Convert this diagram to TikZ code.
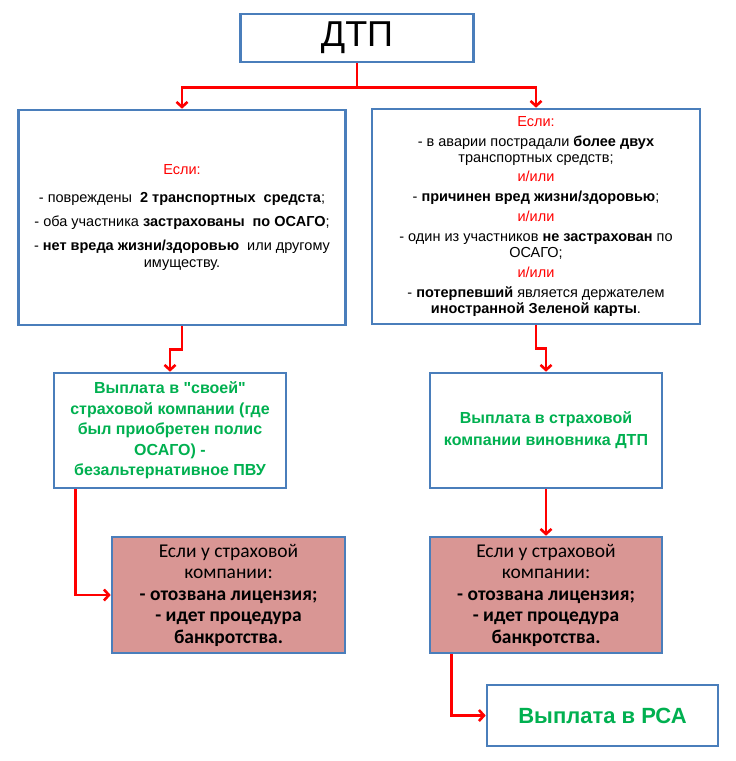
\documentclass[tikz,border=0pt]{standalone}
\definecolor{dtpblue}{HTML}{4A7EBB}
\definecolor{dtpred}{HTML}{FF0000}
\definecolor{dtppink}{HTML}{D99694}
\definecolor{dtpgreen}{HTML}{00B050}
\usepackage{fontspec}
\setmainfont{Liberation Sans}[Ligatures=TeXOff]
\newfontfamily\calibri{Carlito}
\usepackage{tikz}
\usetikzlibrary{arrows.meta, positioning, calc}

\begin{document}
\begin{tikzpicture}[x=1pt, y=-1pt,
    box/.style={draw=dtpblue, fill=white, line width=2.6pt, inner sep=0pt, align=center},
    pinkbox/.style={box, fill=dtppink, font=\calibri\fontsize{19.5}{21.5}\selectfont},
    paytext/.style={text=dtpgreen, font=\bfseries\fontsize{16}{20.5}\selectfont},
    link/.style={draw=dtpred, line width=2.6pt, -{Straight Barb[length=5pt,width=11pt]}}]
    \useasboundingbox (0,0) rectangle (736,761);
    % Top: the accident
    \node[box, minimum width=233, minimum height=48, font=\fontsize{36}{40}\selectfont]
      (dtp) at (357,38) {\raisebox{-2pt}{ДТП}};
    % Conditions: left and right
    \node[box, minimum width=327, minimum height=215, font=\fontsize{14.5}{17}\selectfont]
      (usl1) at (182,217.5) {{\color{dtpred}Если:}\\[11pt]
      - повреждены \ \textbf{2 транспортных \ средста};\\[7pt]
      - оба участника \textbf{застрахованы \ по ОСАГО};\\[7pt]
      - \textbf{нет вреда жизни/здоровью} \ или другому\\
      имуществу.};
    \node[box, minimum width=328, minimum height=215, font=\fontsize{14.5}{16}\selectfont]
      (usl2) at (536,216.5) {{\color{dtpred}Если:}\\[4pt]
      - в аварии пострадали \textbf{более двух}\\
      транспортных средств;\\[3pt]
      {\color{dtpred}и/или}\\[4pt]
      - \textbf{причинен вред жизни/здоровью};\\[4pt]
      {\color{dtpred}и/или}\\[4pt]
      - один из участников \textbf{не застрахован} по\\
      ОСАГО;\\[4pt]
      {\color{dtpred}и/или}\\[4pt]
      - \textbf{потерпевший} является держателем\\
      \textbf{иностранной Зеленой карты}.};
    % Where to claim
    \node[box, paytext, minimum width=232, minimum height=115]
      (pay1) at (170,430.5) {Выплата в "своей"\\страховой компании (где\\был приобретен полис\\ОСАГО) -\\безальтернативное ПВУ};
    \node[box, paytext, minimum width=232, minimum height=115, font=\bfseries\fontsize{16}{22}\selectfont]
      (pay2) at (546,430.5) {Выплата в страховой\\компании виновника ДТП};
    % Insurer out of business
    \node[pinkbox, minimum width=233, minimum height=116]
      (bank1) at (228.5,595) {Если у страховой\\компании:\\\textbf{- отозвана лицензия;}\\\textbf{- идет процедура}\\\textbf{банкротства.}};
    \node[pinkbox, minimum width=232, minimum height=116]
      (bank2) at (546,595) {Если у страховой\\компании:\\\textbf{- отозвана лицензия;}\\\textbf{- идет процедура}\\\textbf{банкротства.}};
    \node[box, minimum width=231, minimum height=61, text=dtpgreen, font=\bfseries\fontsize{22}{24}\selectfont]
      (rsa) at (602.5,715.5) {Выплата в РСА};
    % Connectors
    \draw[link] (dtp.south) -- ++(0,24) -| (usl1.north);
    \draw[link] (dtp.south) -- ++(0,24) -| (usl2.north);
    \draw[link] (usl1.south) -- ++(0,23) -| (pay1.north);
    \draw[link] (usl2.south) -- ++(0,23) -| (pay2.north);
    \draw[link] ($(pay1.south west)+(23,0)$) |- (bank1.west);
    \draw[link] (pay2.south) -- (bank2.north);
    \draw[link] ($(bank2.south west)+(23,0)$) |- (rsa.west);
\end{tikzpicture}
\end{document}
